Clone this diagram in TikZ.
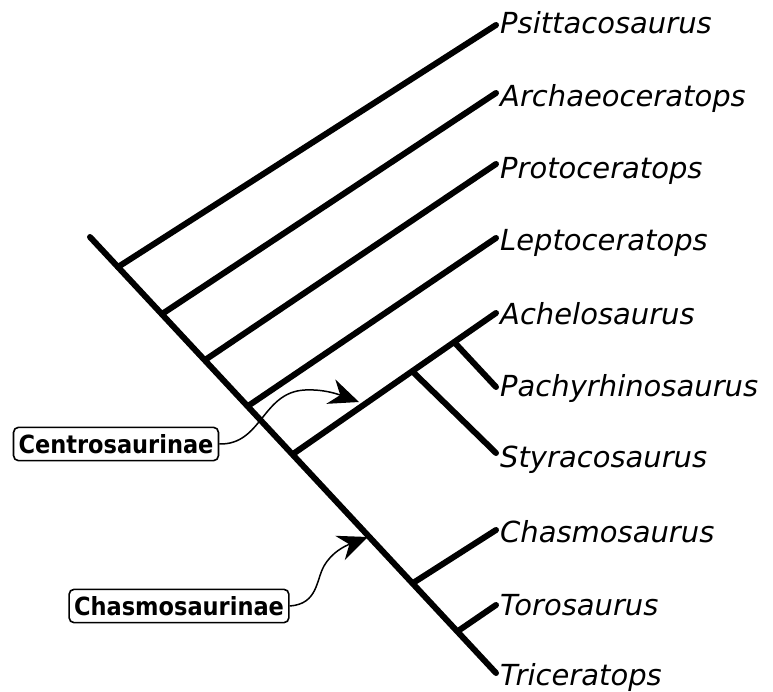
\documentclass[tikz,border=0pt]{standalone}
\usepackage{fontspec}
\setmainfont{DejaVu Sans}
\newfontfamily\cladefont{DejaVu Sans Condensed}
\usetikzlibrary{arrows.meta}
\begin{document}
\begin{tikzpicture}[x=1pt,y=-1pt,
  br/.style={line width=6pt,line cap=round},
  taxon/.style={anchor=base west,inner sep=0pt,font=\fontsize{29}{29}\selectfont\itshape},
  clade/.style={draw,line width=1.6pt,rounded corners=5pt,inner xsep=5pt,inner ysep=7pt,font=\cladefont\fontsize{25}{25}\selectfont\bfseries},
  pointer/.style={line width=1.5pt,-{Stealth[length=30pt,width=26pt,inset=10pt]}}]
\useasboundingbox (0,0) rectangle (773,692);
% trunk and nodes
\coordinate (root) at (90,237);
\coordinate (n1) at (118,267);
\coordinate (n2) at (162,314);
\coordinate (n3) at (205,360);
\coordinate (n4) at (248,406);
\coordinate (n5) at (293,454);
\coordinate (n6) at (413,583);
\coordinate (n7) at (458,631);
\coordinate (c1) at (413,372);
\coordinate (c2) at (455,343);
% leaf ends
\coordinate (e1) at (496,25);
\coordinate (e2) at (496,93);
\coordinate (e3) at (496,164);
\coordinate (e4) at (496,238);
\coordinate (e5) at (496,313);
\coordinate (e6) at (496,387);
\coordinate (e7) at (496,453);
\coordinate (e8) at (496,530);
\coordinate (e9) at (496,605);
\coordinate (e10) at (496,673);
\draw[br] (root) -- (e10);
\draw[br] (n1) -- (e1);
\draw[br] (n2) -- (e2);
\draw[br] (n3) -- (e3);
\draw[br] (n4) -- (e4);
\draw[br] (n5) -- (e5);
\draw[br] (c1) -- (e7);
\draw[br] (c2) -- (e6);
\draw[br] (n6) -- (e8);
\draw[br] (n7) -- (e9);
% labels
\node[taxon] (t1) at (500,34) {Psittacosaurus};
\node[taxon] (t2) at (500,107) {Archaeoceratops};
\node[taxon] (t3) at (500,179) {Protoceratops};
\node[taxon] (t4) at (500,251) {Leptoceratops};
\node[taxon] (t5) at (500,324) {Achelosaurus};
\node[taxon] (t6) at (500,396) {Pachyrhinosaurus};
\node[taxon] (t7) at (500,467) {Styracosaurus};
\node[taxon] (t8) at (500,542) {Chasmosaurus};
\node[taxon] (t9) at (500,615) {Torosaurus};
\node[taxon] (t10) at (500,685) {Triceratops};
% clade labels
\node[clade] (centro) at (116,444) {Centrosaurinae};
\node[clade] (chasmo) at (179,606) {Chasmosaurinae};
\coordinate (ca) at (359,402);
\coordinate (cb) at (368,537);
\draw[pointer] (centro.east) .. controls (262,445) and (262,392) .. (305,390) .. controls (325,389) and (340,395) .. (ca);
\draw[pointer] (chasmo.east) .. controls (318,604) and (316,580) .. (324,566) .. controls (332,552) and (345,546) .. (cb);
\end{tikzpicture}
\end{document}
